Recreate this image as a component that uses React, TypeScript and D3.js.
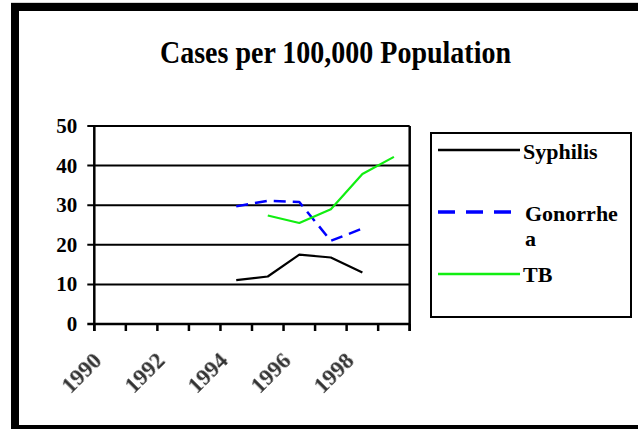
import React from "react";
import * as d3 from "d3";

const years = ["1990", "1991", "1992", "1993", "1994", "1995", "1996", "1997", "1998", "1999"];
const xLabels = ["1990", "1992", "1994", "1996", "1998"];
const yTicks = [0, 10, 20, 30, 40, 50];
const syphilis: (number | null)[] = [null, null, null, null, 11.1, 12.0, 17.5, 16.8, 13.0, null];
const gonorrhea: (number | null)[] = [null, null, null, null, 29.7, 31.1, 30.8, 21.0, 24.1, null];
const tb: (number | null)[] = [null, null, null, null, null, 27.4, 25.5, 29.0, 37.9, 42.2];

const seriesNames = ["Syphilis", "Gonorrhea", "TB"];
const seriesColors = ["#000000", "#0000ff", "#11ee11"];
const seriesDash = [null, "12,7", null];

const W = 638;
const H = 429;
const FONT = "'Liberation Serif', 'Times New Roman', serif";

export default function App() {
  const x = d3.scaleBand<string>().domain(years).range([94.3, 409.7]).padding(0);
  const y = d3.scaleLinear().domain([0, 50]).range([324, 126]);
  const cx = (yr: string) => (x(yr) as number) + x.bandwidth() / 2;

  const line = d3
    .line<{ yr: string; v: number | null }>()
    .defined((d) => d.v !== null)
    .x((d) => cx(d.yr))
    .y((d) => y(d.v as number));

  const allSeries = [syphilis, gonorrhea, tb].map((arr) => arr.map((v, i) => ({ yr: years[i], v })));

  const [x0, x1] = x.range();
  const boundaries = years.map((yr) => x(yr) as number).concat([x1]);

  const legendX = 431;
  const legendY = 133;
  const legendRows = [150, 212, 274];

  return (
    <div style={{ position: "fixed", left: 0, top: 0 }}>
      <svg width={W} height={H} style={{ display: "block", background: "#fff" }}>
        <rect x={0} y={0} width={W} height={H} fill="#fff" />
        <line x1={11} x2={W} y1={3} y2={3} stroke="#aaa" strokeWidth={1} />
        <rect x={15} y={7} width={640} height={422} fill="none" stroke="#000" strokeWidth={8} />

        <g transform="translate(335.5,63) scale(1,1.12)">
          <text x={0} y={0} textAnchor="middle" fontFamily={FONT} fontWeight="bold" fontSize={28} fill="#000">
            Cases per 100,000 Population
          </text>
        </g>

        {/* gridlines & y ticks */}
        {yTicks.map((t) => (
          <g key={t}>
            <line x1={x0 - 7} x2={x1} y1={y(t)} y2={y(t)} stroke="#000" strokeWidth={t === 0 ? 2.5 : 2} />
            <text
              x={x0 - 17}
              y={y(t) + 7}
              textAnchor="end"
              fontFamily={FONT}
              fontWeight="bold"
              fontSize={21}
              fill="#000"
            >
              {t}
            </text>
          </g>
        ))}
        {/* left axis & right border */}
        <line x1={x0} x2={x0} y1={y(50)} y2={y(0) + 7} stroke="#000" strokeWidth={2.5} />
        <line x1={x1} x2={x1} y1={y(50)} y2={y(0) + 7} stroke="#000" strokeWidth={2.5} />
        {/* x ticks */}
        {boundaries.map((bx, i) => (
          <line key={i} x1={bx} x2={bx} y1={y(0)} y2={y(0) + 7} stroke="#000" strokeWidth={2.5} />
        ))}
        {/* x labels */}
        {xLabels.map((lab) => {
          const ax = cx(lab) - 7;
          const ay = y(0) + 38;
          return (
            <text
              key={lab}
              x={ax}
              y={ay}
              transform={`rotate(-45, ${ax}, ${ay})`}
              textAnchor="end"
              fontFamily={FONT}
              fontWeight="bold"
              fontSize={23}
              fill="#333"
              style={{ filter: "blur(0.6px)" }}
            >
              {lab}
            </text>
          );
        })}

        {/* series */}
        {allSeries.map((s, i) => (
          <path
            key={seriesNames[i]}
            d={line(s) || ""}
            fill="none"
            stroke={seriesColors[i]}
            strokeWidth={i === 1 ? 2.5 : 2.2}
            strokeDasharray={seriesDash[i] || undefined}
            strokeLinejoin="round"
          />
        ))}

        {/* legend */}
        <rect x={legendX} y={legendY} width={200} height={184} fill="#fff" stroke="#000" strokeWidth={2} />
        {legendRows.map((ly, i) => (
          <line
            key={i}
            x1={438}
            x2={i === 1 ? 512 : 520}
            y1={ly}
            y2={ly}
            stroke={seriesColors[i]}
            strokeWidth={i === 1 ? 3.5 : 2.5}
            strokeDasharray={i === 1 ? "17,11" : undefined}
          />
        ))}
        <text x={523} y={159} fontFamily={FONT} fontWeight="bold" fontSize={22} fill="#000">
          Syphilis
        </text>
        <text x={525} y={221} fontFamily={FONT} fontWeight="bold" fontSize={22} fill="#000">
          Gonorrhe
        </text>
        <text x={525} y={246} fontFamily={FONT} fontWeight="bold" fontSize={22} fill="#000">
          a
        </text>
        <text x={523} y={282} fontFamily={FONT} fontWeight="bold" fontSize={22} fill="#000">
          TB
        </text>
      </svg>
    </div>
  );
}
